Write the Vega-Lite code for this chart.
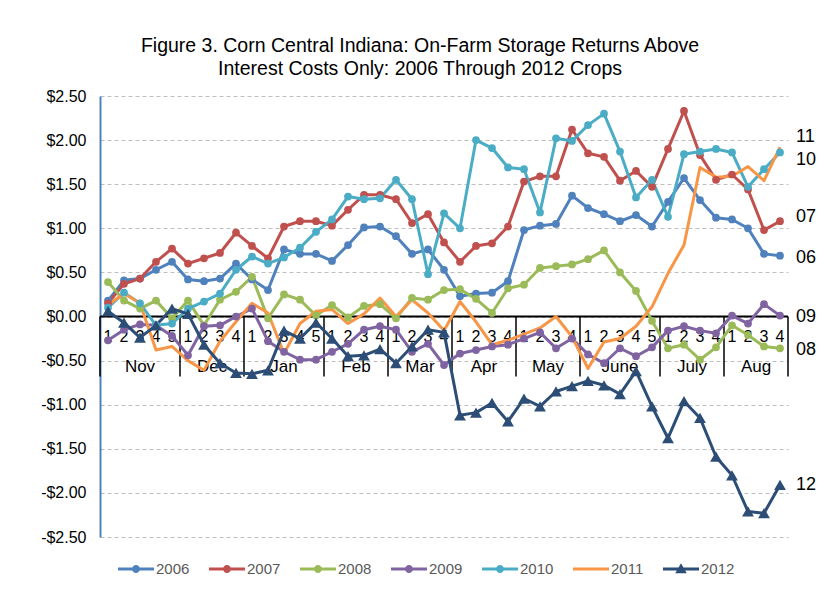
{
  "$schema": "https://vega.github.io/schema/vega-lite/v6.json",
  "width": 688,
  "height": 441,
  "autosize": {"type": "none"},
  "padding": {"left": 100, "top": 96, "right": 50, "bottom": 57},
  "background": "white",
  "config": {"font": "Liberation Sans", "view": {"stroke": null}},
  "title": {
    "text": ["Figure 3. Corn Central Indiana: On-Farm Storage Returns Above", "Interest Costs Only: 2006 Through 2012 Crops"],
    "fontSize": 19.5,
    "fontWeight": "normal",
    "color": "black",
    "anchor": "middle",
    "dx": -24,
    "offset": 9,
    "lineHeight": 23
  },
  "datasets": {
    "main": [
      {"i": 1, "wk": "1", "2006": 0.18, "2007": 0.15, "2008": 0.39, "2009": -0.27, "2010": 0.10, "2011": 0.13, "2012": 0.06},
      {"i": 2, "wk": "2", "2006": 0.41, "2007": 0.37, "2008": 0.18, "2009": -0.15, "2010": 0.27, "2011": 0.26, "2012": -0.07},
      {"i": 3, "wk": "3", "2006": 0.43, "2007": 0.43, "2008": 0.09, "2009": -0.09, "2010": 0.15, "2011": 0.15, "2012": -0.24},
      {"i": 4, "wk": "4", "2006": 0.53, "2007": 0.62, "2008": 0.18, "2009": -0.10, "2010": -0.10, "2011": -0.38, "2012": -0.10},
      {"i": 5, "wk": "5", "2006": 0.62, "2007": 0.77, "2008": -0.02, "2009": -0.22, "2010": -0.08, "2011": -0.34, "2012": 0.09},
      {"i": 6, "wk": "1", "2006": 0.42, "2007": 0.60, "2008": 0.18, "2009": -0.44, "2010": 0.09, "2011": -0.50, "2012": 0.03},
      {"i": 7, "wk": "2", "2006": 0.40, "2007": 0.66, "2008": -0.10, "2009": -0.11, "2010": 0.17, "2011": -0.61, "2012": -0.32},
      {"i": 8, "wk": "3", "2006": 0.43, "2007": 0.72, "2008": 0.19, "2009": -0.10, "2010": 0.26, "2011": -0.28, "2012": -0.53},
      {"i": 9, "wk": "4", "2006": 0.60, "2007": 0.95, "2008": 0.28, "2009": 0.00, "2010": 0.53, "2011": -0.06, "2012": -0.64},
      {"i": 10, "wk": "1", "2006": 0.42, "2007": 0.80, "2008": 0.45, "2009": 0.09, "2010": 0.68, "2011": 0.15, "2012": -0.65},
      {"i": 11, "wk": "2", "2006": 0.30, "2007": 0.66, "2008": -0.02, "2009": -0.28, "2010": 0.60, "2011": 0.04, "2012": -0.61},
      {"i": 12, "wk": "3", "2006": 0.76, "2007": 1.02, "2008": 0.25, "2009": -0.40, "2010": 0.67, "2011": -0.42, "2012": -0.16},
      {"i": 13, "wk": "4", "2006": 0.71, "2007": 1.08, "2008": 0.19, "2009": -0.49, "2010": 0.78, "2011": -0.08, "2012": -0.25},
      {"i": 14, "wk": "5", "2006": 0.71, "2007": 1.08, "2008": 0.01, "2009": -0.49, "2010": 0.96, "2011": 0.06, "2012": -0.07},
      {"i": 15, "wk": "1", "2006": 0.63, "2007": 1.03, "2008": 0.13, "2009": -0.40, "2010": 1.10, "2011": 0.08, "2012": -0.25},
      {"i": 16, "wk": "2", "2006": 0.81, "2007": 1.21, "2008": -0.01, "2009": -0.31, "2010": 1.36, "2011": -0.08, "2012": -0.45},
      {"i": 17, "wk": "3", "2006": 1.01, "2007": 1.38, "2008": 0.12, "2009": -0.15, "2010": 1.33, "2011": 0.03, "2012": -0.44},
      {"i": 18, "wk": "4", "2006": 1.02, "2007": 1.38, "2008": 0.14, "2009": -0.11, "2010": 1.34, "2011": 0.21, "2012": -0.37},
      {"i": 19, "wk": "1", "2006": 0.91, "2007": 1.33, "2008": -0.02, "2009": -0.15, "2010": 1.55, "2011": 0.00, "2012": -0.53},
      {"i": 20, "wk": "2", "2006": 0.71, "2007": 1.06, "2008": 0.21, "2009": -0.40, "2010": 1.33, "2011": 0.19, "2012": -0.34},
      {"i": 21, "wk": "3", "2006": 0.76, "2007": 1.16, "2008": 0.19, "2009": -0.31, "2010": 0.48, "2011": 0.04, "2012": -0.15},
      {"i": 22, "wk": "4", "2006": 0.53, "2007": 0.84, "2008": 0.30, "2009": -0.55, "2010": 1.17, "2011": -0.16, "2012": -0.18},
      {"i": 23, "wk": "1", "2006": 0.23, "2007": 0.62, "2008": 0.31, "2009": -0.42, "2010": 1.00, "2011": 0.17, "2012": -1.12},
      {"i": 24, "wk": "2", "2006": 0.26, "2007": 0.80, "2008": 0.20, "2009": -0.38, "2010": 2.00, "2011": -0.06, "2012": -1.09},
      {"i": 25, "wk": "3", "2006": 0.27, "2007": 0.83, "2008": 0.04, "2009": -0.34, "2010": 1.91, "2011": -0.32, "2012": -0.98},
      {"i": 26, "wk": "4", "2006": 0.40, "2007": 1.02, "2008": 0.32, "2009": -0.32, "2010": 1.69, "2011": -0.27, "2012": -1.19},
      {"i": 27, "wk": "1", "2006": 0.98, "2007": 1.53, "2008": 0.36, "2009": -0.25, "2010": 1.67, "2011": -0.20, "2012": -0.93},
      {"i": 28, "wk": "2", "2006": 1.03, "2007": 1.59, "2008": 0.55, "2009": -0.18, "2010": 1.18, "2011": -0.13, "2012": -1.02},
      {"i": 29, "wk": "3", "2006": 1.05, "2007": 1.59, "2008": 0.57, "2009": -0.36, "2010": 2.02, "2011": 0.00, "2012": -0.85},
      {"i": 30, "wk": "4", "2006": 1.37, "2007": 2.12, "2008": 0.59, "2009": -0.25, "2010": 1.99, "2011": -0.23, "2012": -0.79},
      {"i": 31, "wk": "1", "2006": 1.23, "2007": 1.85, "2008": 0.65, "2009": -0.43, "2010": 2.17, "2011": -0.59, "2012": -0.73},
      {"i": 32, "wk": "2", "2006": 1.16, "2007": 1.81, "2008": 0.75, "2009": -0.53, "2010": 2.30, "2011": -0.29, "2012": -0.78},
      {"i": 33, "wk": "3", "2006": 1.08, "2007": 1.54, "2008": 0.50, "2009": -0.36, "2010": 1.87, "2011": -0.25, "2012": -0.88},
      {"i": 34, "wk": "4", "2006": 1.15, "2007": 1.65, "2008": 0.29, "2009": -0.45, "2010": 1.35, "2011": -0.11, "2012": -0.62},
      {"i": 35, "wk": "5", "2006": 1.02, "2007": 1.47, "2008": -0.05, "2009": -0.35, "2010": 1.55, "2011": 0.11, "2012": -1.02},
      {"i": 36, "wk": "1", "2006": 1.30, "2007": 1.90, "2008": -0.36, "2009": -0.16, "2010": 1.13, "2011": 0.49, "2012": -1.38},
      {"i": 37, "wk": "2", "2006": 1.57, "2007": 2.33, "2008": -0.32, "2009": -0.11, "2010": 1.84, "2011": 0.81, "2012": -0.96},
      {"i": 38, "wk": "3", "2006": 1.32, "2007": 1.83, "2008": -0.49, "2009": -0.16, "2010": 1.87, "2011": 1.69, "2012": -1.15},
      {"i": 39, "wk": "4", "2006": 1.12, "2007": 1.55, "2008": -0.35, "2009": -0.19, "2010": 1.90, "2011": 1.58, "2012": -1.59},
      {"i": 40, "wk": "1", "2006": 1.10, "2007": 1.61, "2008": -0.10, "2009": 0.01, "2010": 1.86, "2011": 1.59, "2012": -1.80},
      {"i": 41, "wk": "2", "2006": 1.00, "2007": 1.44, "2008": -0.21, "2009": -0.08, "2010": 1.47, "2011": 1.70, "2012": -2.21},
      {"i": 42, "wk": "3", "2006": 0.71, "2007": 0.98, "2008": -0.34, "2009": 0.14, "2010": 1.67, "2011": 1.54, "2012": -2.23},
      {"i": 43, "wk": "4", "2006": 0.69, "2007": 1.08, "2008": -0.36, "2009": 0.01, "2010": 1.86, "2011": 1.92, "2012": -1.91}
    ],
    "months": [
      {"m": "Nov", "c": 3},
      {"m": "Dec", "c": 7.5},
      {"m": "Jan", "c": 12},
      {"m": "Feb", "c": 16.5},
      {"m": "Mar", "c": 20.5},
      {"m": "Apr", "c": 24.5},
      {"m": "May", "c": 28.5},
      {"m": "June", "c": 33},
      {"m": "July", "c": 37.5},
      {"m": "Aug", "c": 41.5}
    ],
    "bounds": [
      {"b": 0.5}, {"b": 5.5}, {"b": 9.5}, {"b": 14.5}, {"b": 18.5}, {"b": 22.5},
      {"b": 26.5}, {"b": 30.5}, {"b": 35.5}, {"b": 39.5}, {"b": 43.5}
    ],
    "ends": [
      {"lab": "11", "v": 2.04},
      {"lab": "10", "v": 1.78},
      {"lab": "07", "v": 1.13},
      {"lab": "06", "v": 0.66},
      {"lab": "09", "v": 0.0},
      {"lab": "08", "v": -0.38},
      {"lab": "12", "v": -1.91}
    ]
  },
  "encoding": {
    "y": {
      "type": "quantitative",
      "scale": {"domain": [-2.5, 2.5], "nice": false, "zero": false},
      "axis": {
        "values": [-2.5, -2, -1.5, -1, -0.5, 0, 0.5, 1, 1.5, 2, 2.5],
        "labelExpr": "(datum.value < 0 ? '-' : '') + '$' + format(abs(datum.value), '.2f')",
        "grid": true,
        "gridDash": [4, 3],
        "gridColor": "#BFBFBF",
        "gridWidth": 1,
        "ticks": false,
        "domainColor": "#4F81BD",
        "domainWidth": 2,
        "labelFontSize": 16,
        "labelColor": "black",
        "labelPadding": 14,
        "title": null
      }
    }
  },
  "layer": [
    {
      "data": {"name": "bounds"},
      "mark": {"type": "rule", "color": "black", "strokeWidth": 1.5},
      "encoding": {
        "x": {"field": "b", "type": "quantitative", "scale": {"domain": [0.5, 43.5], "nice": false, "zero": false}, "axis": null},
        "y": {"datum": 0},
        "y2": {"datum": -0.68}
      }
    },
    {
      "data": {"values": [{}]},
      "mark": {"type": "rule", "color": "black", "strokeWidth": 2},
      "encoding": {"y": {"datum": 0}}
    },
    {
      "data": {"name": "main"},
      "mark": {"type": "text", "fontSize": 16, "color": "black", "baseline": "middle", "align": "center"},
      "encoding": {
        "x": {"field": "i", "type": "quantitative"},
        "y": {"datum": -0.23},
        "text": {"field": "wk"}
      }
    },
    {
      "data": {"name": "months"},
      "mark": {"type": "text", "fontSize": 17, "color": "black", "baseline": "middle", "align": "center"},
      "encoding": {
        "x": {"field": "c", "type": "quantitative"},
        "y": {"datum": -0.57},
        "text": {"field": "m"}
      }
    },
    {
      "data": {"name": "main"},
      "transform": [{"fold": ["2006", "2007", "2008", "2009", "2010", "2011", "2012"], "as": ["key", "v"]}],
      "mark": {"type": "line", "strokeWidth": 3, "strokeJoin": "round"},
      "encoding": {
        "x": {"field": "i", "type": "quantitative"},
        "y": {"field": "v", "type": "quantitative"},
        "color": {
          "field": "key",
          "type": "nominal",
          "scale": {
            "domain": ["2006", "2007", "2008", "2009", "2010", "2011", "2012"],
            "range": ["#4F81BD", "#C0504D", "#9BBB59", "#8064A2", "#4BACC6", "#F79646", "#2C4D75"]
          },
          "legend": {
            "orient": "none",
            "legendX": 18,
            "legendY": 455,
            "direction": "horizontal",
            "title": null,
            "symbolSize": 1296,
            "labelFontSize": 15,
            "labelColor": "#595959",
            "columnPadding": 19,
            "labelOffset": 2,
            "encode": {
              "symbols": {
                "update": {
                  "shape": {"signal": "datum.value === '2012' ? 'M-1,-0.083H1V0.083H-1Z M0,-0.32L0.32,0.24L-0.32,0.24Z' : (datum.value === '2011' ? 'M-1,-0.083H1V0.083H-1Z' : 'M-1,-0.083H1V0.083H-1Z M0.22,0A0.22,0.22 0 1,1 -0.22,0A0.22,0.22 0 1,1 0.22,0Z')"},
                  "fill": {"scale": "color", "field": "value"},
                  "fillOpacity": {"value": 1},
                  "strokeWidth": {"value": 0}
                }
              }
            }
          }
        }
      }
    },
    {
      "data": {"name": "main"},
      "transform": [
        {"fold": ["2006", "2007", "2008", "2009", "2010", "2012"], "as": ["key", "v"]}
      ],
      "mark": {"type": "point", "filled": true, "opacity": 1},
      "encoding": {
        "x": {"field": "i", "type": "quantitative"},
        "y": {"field": "v", "type": "quantitative"},
        "color": {"field": "key", "type": "nominal"},
        "shape": {
          "field": "key",
          "type": "nominal",
          "scale": {
            "domain": ["2006", "2007", "2008", "2009", "2010", "2012"],
            "range": ["circle", "circle", "circle", "circle", "circle", "triangle-up"]
          },
          "legend": null
        },
        "size": {"condition": {"test": "datum.key === '2012'", "value": 140}, "value": 60}
      }
    },
    {
      "data": {"name": "ends"},
      "mark": {"type": "text", "fontSize": 18, "color": "black", "align": "left", "baseline": "middle", "dx": 16},
      "encoding": {
        "x": {"datum": 43},
        "y": {"field": "v", "type": "quantitative"},
        "text": {"field": "lab"}
      }
    }
  ]
}
